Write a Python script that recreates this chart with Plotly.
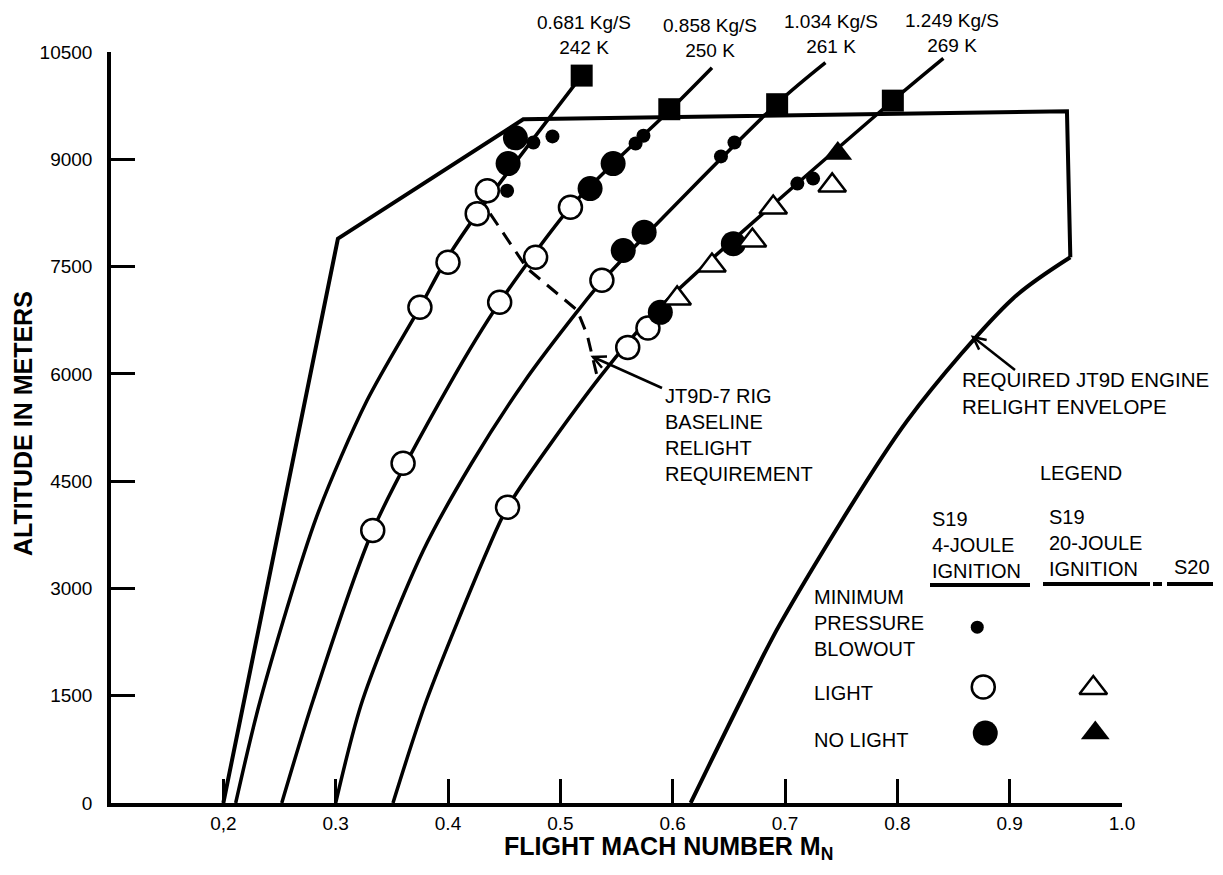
import math
import plotly.graph_objects as go

# ---- data (flight Mach number, altitude in metres) ----
env_mach = [0.200, 0.302, 0.467, 0.951, 0.954]
env_alt = [0, 7890, 9560, 9670, 7630]
req_mach = [0.616, 0.661, 0.696, 0.809, 0.903, 0.954]
req_alt = [0, 1440, 2515, 5350, 7055, 7630]

flow_labels = ["0.681 Kg/S<br>242 K", "0.858 Kg/S<br>250 K",
               "1.034 Kg/S<br>261 K", "1.249 Kg/S<br>269 K"]

c681_mach = [0.211, 0.233, 0.283, 0.328, 0.375, 0.397, 0.426, 0.519]
c681_alt = [0, 1440, 4000, 5630, 6930, 7560, 8240, 10170]
c858_mach = [0.252, 0.280, 0.333, 0.402, 0.446, 0.509, 0.547, 0.597, 0.635]
c858_alt = [0, 1440, 3810, 5870, 7000, 8330, 8940, 9680, 10280]
c1034_mach = [0.300, 0.324, 0.378, 0.421, 0.467, 0.516, 0.538, 0.693, 0.736]
c1034_alt = [0, 1440, 3530, 4750, 5870, 6890, 7310, 9780, 10350]
c1243_mach = [0.351, 0.381, 0.435, 0.453, 0.535, 0.586, 0.796, 0.841]
c1243_alt = [0, 1440, 3530, 4135, 5950, 6890, 9820, 10410]

baseline_mach = [0.4375, 0.4704, 0.515, 0.524, 0.533]
baseline_alt = [8240, 7475, 6890, 6540, 5950]

# S19 4-joule ignition
light4_mach = [0.375, 0.400, 0.426, 0.435, 0.333, 0.360, 0.446, 0.478, 0.509,
               0.537, 0.453, 0.560, 0.578]
light4_alt = [6930, 7560, 8240, 8560, 3810, 4750, 7000, 7630, 8330,
              7310, 4135, 6370, 6640]
nolight4_mach = [0.4535, 0.460, 0.5265, 0.547, 0.556, 0.5746, 0.589, 0.654]
nolight4_alt = [8940, 9300, 8590, 8940, 7725, 7980, 6860, 7820]
blowout4_mach = [0.4526, 0.476, 0.493, 0.567, 0.574, 0.643, 0.655, 0.711, 0.725]
blowout4_alt = [8560, 9235, 9320, 9220, 9330, 9040, 9235, 8660, 8730]

# S19 20-joule ignition
light20_mach = [0.604, 0.635, 0.671, 0.6895, 0.742]
light20_alt = [7055, 7515, 7865, 8325, 8635]
nolight20_mach = [0.747]
nolight20_alt = [9080]

# S20 blowout
s20_mach = [0.519, 0.597, 0.693, 0.796]
s20_alt = [10170, 9700, 9770, 9820]

x_ticks = [0.2, 0.3, 0.4, 0.5, 0.6, 0.7, 0.8, 0.9, 1.0]
x_ticktext = ["0,2", "0.3", "0.4", "0.5", "0.6", "0.7", "0.8", "0.9", "1.0"]
y_ticks = [0, 1500, 3000, 4500, 6000, 7500, 9000, 10500]
y_ticktext = [str(v) for v in y_ticks]

FONT = "Liberation Sans, Arial, sans-serif"

open_circle = dict(symbol="circle", size=23, color="white", line=dict(color="black", width=2.5))
big_dot = dict(symbol="circle", size=25, color="black")
small_dot = dict(symbol="circle", size=14, color="black")
open_tri = dict(symbol="triangle-up", size=24, color="white", line=dict(color="black", width=2.5))
black_tri = dict(symbol="triangle-up", size=25, color="black")
square = dict(symbol="square", size=22, color="black")

fig = go.Figure()

# envelope
fig.add_trace(go.Scatter(x=env_mach, y=env_alt, mode="lines",
                         line=dict(color="black", width=4)))
fig.add_trace(go.Scatter(x=req_mach, y=req_alt, mode="lines",
                         line=dict(color="black", width=4, shape="spline", smoothing=0.8)))

for xs, ys in [(c681_mach, c681_alt), (c858_mach, c858_alt),
               (c1034_mach, c1034_alt), (c1243_mach, c1243_alt)]:
    fig.add_trace(go.Scatter(x=xs, y=ys, mode="lines",
                             line=dict(color="black", width=3.5, shape="spline", smoothing=0.8)))

fig.add_trace(go.Scatter(x=baseline_mach, y=baseline_alt, mode="lines",
                         line=dict(color="black", width=3, dash="14px,9px")))

for xs, ys, mk in [(light4_mach, light4_alt, open_circle),
                   (nolight4_mach, nolight4_alt, big_dot),
                   (blowout4_mach, blowout4_alt, small_dot),
                   (light20_mach, light20_alt, open_tri),
                   (nolight20_mach, nolight20_alt, black_tri),
                   (s20_mach, s20_alt, square)]:
    fig.add_trace(go.Scatter(x=xs, y=ys, mode="markers", marker=mk, cliponaxis=False))


# helpers for placing text / legend glyphs at picture positions
def P(px, py):
    return (px - 111) / 1011, (803 - py) / 751


def D(px, py):
    return 0.1 + (px - 111) / 1123, (803 - py) * 13.97


annotations = []


def text(px, py, s, size=19, xanchor="left", bold=False, angle=0):
    x, y = P(px, py)
    annotations.append(dict(x=x, y=y, xref="paper", yref="paper", text=s, showarrow=False,
                            xanchor=xanchor, yanchor="middle", align=xanchor if xanchor != "center" else "center",
                            textangle=angle,
                            font=dict(family=FONT, size=size, color="black",
                                      weight="bold" if bold else "normal")))


for (px, py), s in zip([(584, 35), (710, 38), (831, 34), (952, 33)], flow_labels):
    text(px, py, s, xanchor="center")

text(663, 435, "JT9D-7 RIG<br>BASELINE<br>RELIGHT<br>REQUIREMENT", size=20)
text(960, 393, "REQUIRED JT9D ENGINE<br>RELIGHT ENVELOPE", size=20.5)

text(1038, 473, "LEGEND", size=20)
text(930, 545, "S19<br>4-JOULE<br>IGNITION", size=20)
text(1047, 543, "S19<br>20-JOULE<br>IGNITION", size=20)
text(1172, 567, "S20", size=20)
text(812, 623, "MINIMUM<br>PRESSURE<br>BLOWOUT", size=20)
text(812, 693, "LIGHT", size=20)
text(812, 740, "NO LIGHT", size=20)

text(23, 424, "ALTITUDE IN METERS", size=25, xanchor="center", bold=True, angle=-90)
text(668, 848, "FLIGHT MACH NUMBER M<sub>N</sub>", size=25, xanchor="center", bold=True)

shapes = []

# pointer arrows (line + open head), drawn as shapes
for tip, tail in [((593, 357), (662, 388)), ((973, 337), (1015, 370))]:
    dx, dy = tip[0] - tail[0], tip[1] - tail[1]
    n = math.hypot(dx, dy)
    ux, uy = dx / n, dy / n
    pts = []
    for ang in (0.45, -0.45):
        c, s = math.cos(ang), math.sin(ang)
        rx, ry = ux * c - uy * s, ux * s + uy * c
        pts.append(P(tip[0] - 14 * rx, tip[1] - 14 * ry))
    t0, t1 = P(*tail), P(*tip)
    shapes.append(dict(type="line", xref="paper", yref="paper", x0=t0[0], y0=t0[1],
                       x1=t1[0], y1=t1[1], line=dict(color="black", width=2.5)))
    shapes.append(dict(type="path", xref="paper", yref="paper",
                       path=f"M{pts[0][0]},{pts[0][1]} L{t1[0]},{t1[1]} L{pts[1][0]},{pts[1][1]}",
                       line=dict(color="black", width=2.5)))

# legend glyphs
for (px, py), mk in [((977, 627), dict(small_dot, size=13)), ((1192, 622), square),
                     ((983, 687), open_circle), ((1093, 688), open_tri),
                     ((985, 733), big_dot), ((1095, 733), black_tri)]:
    lx, ly = D(px, py)
    fig.add_trace(go.Scatter(x=[lx], y=[ly], mode="markers", marker=mk, cliponaxis=False))

for x0, x1, py in [(930, 1030, 585), (1043, 1150, 584), (1153, 1162, 584), (1167, 1213, 584)]:
    a, y = P(x0, py)
    b, _ = P(x1, py)
    shapes.append(dict(type="line", xref="paper", yref="paper", x0=a, x1=b, y0=y, y1=y,
                       line=dict(color="black", width=4)))

axis_style = dict(showline=True, linewidth=3.5, linecolor="black", ticks="inside",
                  ticklen=24, tickwidth=2.5, tickcolor="black", showgrid=False,
                  zeroline=False, tickfont=dict(family=FONT, size=19, color="black"))

fig.update_layout(
    width=1223, height=875,
    margin=dict(l=111, r=101, t=52, b=72),
    paper_bgcolor="white", plot_bgcolor="white",
    showlegend=False, hovermode=False,
    xaxis=dict(range=[0.1, 1.0], tickvals=x_ticks, ticktext=x_ticktext, **axis_style),
    yaxis=dict(range=[0, 10500], tickvals=y_ticks, ticktext=y_ticktext,
               ticklabelstandoff=11, **axis_style),
    annotations=annotations,
    shapes=shapes,
)

fig.write_html("out.html", config={"displayModeBar": False},
               post_script="document.body.style.margin='0';")
